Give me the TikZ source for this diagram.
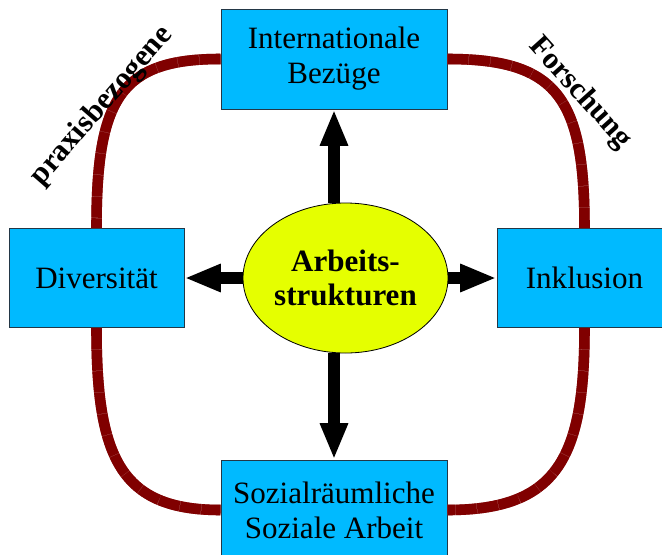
\documentclass[tikz,border=0pt]{standalone}
\usepackage{fontspec}
\setmainfont{Liberation Serif}
\usetikzlibrary{shapes,arrows.meta,positioning}
\definecolor{boxblue}{RGB}{0,186,255}
\definecolor{boxline}{RGB}{35,55,70}
\definecolor{hubyellow}{RGB}{229,255,0}
\definecolor{bandred}{RGB}{128,0,0}
\definecolor{seamred}{RGB}{175,100,100}
\tikzstyle{block} = [rectangle, draw=boxline, line width=0.8pt, fill=boxblue,
    align=center, minimum width=6.78cm, minimum height=3cm,
    font=\fontsize{26.5}{30}\selectfont]
\tikzstyle{sideblock} = [block, minimum width=5.25cm, minimum height=2.97cm]
\tikzstyle{hub} = [ellipse, draw, line width=0.7pt, fill=hubyellow, inner sep=0pt,
    minimum width=6.15cm, minimum height=4.5cm, align=center,
    font=\fontsize{26.5}{29}\selectfont\bfseries]
\tikzstyle{arrow} = [draw, line width=9.4pt, -{Triangle[length=31pt, width=22pt]}]
\tikzstyle{band} = [preaction={draw=seamred, line width=9pt},
    draw=bandred, line width=9pt, dash pattern=on 18pt off 0.45pt]
\tikzstyle{tag} = [font=\fontsize{26}{28}\selectfont\bfseries, inner sep=0pt]

\begin{document}
\begin{tikzpicture}[x=0.03cm, y=-0.03cm]
		\useasboundingbox (0,0) rectangle (662,555);
		\clip (0,0) rectangle (662,555);

		\node [hub] (arb) at (345.5,278) {Arbeits-\\strukturen};
		\node [block, above of=arb, node distance=6.57cm, xshift=-0.345cm] (intl) {Internationale\\Bezüge};
		\node [block, below of=arb, node distance=6.96cm, xshift=-0.345cm] (sozr) {Sozialräumliche\\Soziale Arbeit};
		\node [sideblock, left of=arb, node distance=7.47cm] (div) {Diversität};
		\node [sideblock, right of=arb, node distance=7.17cm] (inkl) {Inklusion};

		% rounded bands between the outer boxes
		\path [band] (intl.west) .. controls +(-100,0) and +(0,-130) .. (div.north);
		\path [band] (intl.east) .. controls +(110,0) and +(0,-130) .. (inkl.north);
		\path [band] (div.south) .. controls +(0,130) and +(-100,0) .. (sozr.west);
		\path [band] (inkl.south) .. controls +(0,130) and +(110,0) .. (sozr.east);

		\path [arrow] (arb.north -| intl.south) -- (intl.south);
		\path [arrow] (arb.south -| sozr.north) -- (sozr.north);
		\path [arrow] (arb.west) -- (div.east);
		\path [arrow] (arb.east) -- (inkl.west);

		\node [tag, rotate=49] (praxis) at (102,106) {praxisbezogene};
		\node [tag, rotate=-48] (forsch) at (580,93) {Forschung};
	\end{tikzpicture}
\end{document}
